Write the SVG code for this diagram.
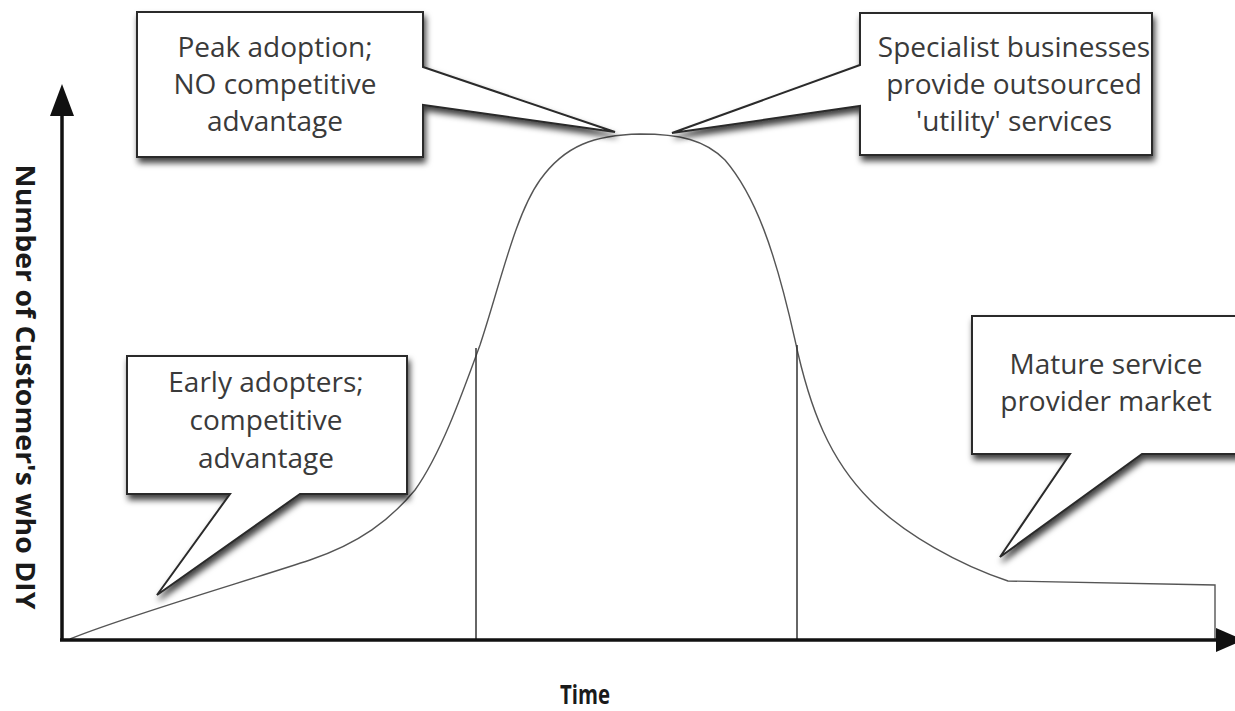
<svg xmlns="http://www.w3.org/2000/svg" width="1235" height="711" viewBox="0 0 1235 711">
  <style>
    .curve { fill: none; stroke: #555; stroke-width: 1.4; }
    .guide { fill: none; stroke: #333; stroke-width: 1.5; }
    .axis { fill: none; stroke: #111; stroke-width: 3.5; }
    .head { fill: #111; }
    .callout { fill: #fff; stroke: #2a2a2a; stroke-width: 2; filter: url(#shadow); }
    .label { font-family: "Open Sans", "Noto Sans", sans-serif; font-size: 28px; fill: #3a3a3a; text-anchor: middle; }
    .axis-title { font-family: "Open Sans", "Noto Sans", sans-serif; font-weight: bold; font-size: 27px; fill: #1a1a1a; text-anchor: middle; }
  </style>
  <defs>
    <filter id="shadow" x="-10%" y="-10%" width="130%" height="140%">
      <feDropShadow dx="2" dy="5" stdDeviation="3" flood-color="#000" flood-opacity="0.75"/>
    </filter>
  </defs>

  <rect width="1235" height="711" fill="#fff"/>

  <!-- adoption curve and phase boundaries -->
  <g id="connectors">
    <path class="curve" d="M70,639 C120,618 250,580 310,560 C360,543 390,520 415,490 C440,455 460,400 480,345 C500,285 515,215 540,180 C565,145 595,135 640,134 C680,134 705,140 725,160 C755,195 775,250 795,340 C810,410 830,460 870,500 C905,535 960,565 1008,581 L1215,585 L1215,640"/>
    <line class="guide" x1="476" y1="348" x2="476" y2="640"/>
    <line class="guide" x1="797" y1="345" x2="797" y2="640"/>
  </g>

  <!-- axes -->
  <g id="axes">
    <line class="axis" x1="62" y1="640" x2="62" y2="110"/>
    <polygon class="head" points="62,84 50,116 74,116"/>
    <line class="axis" x1="60" y1="640" x2="1220" y2="640"/>
    <polygon class="head" points="1244,640 1216,628 1216,652"/>
    <text class="axis-title" x="585" y="704" font-size="25" textLength="50" lengthAdjust="spacingAndGlyphs">Time</text>
    <text class="axis-title" transform="translate(16,387) rotate(90)" textLength="445" lengthAdjust="spacingAndGlyphs">Number of Customer's who DIY</text>
  </g>

  <!-- callouts -->
  <g id="peak-adoption">
    <path class="callout" d="M137,12 H423 V67 L615,132 L423,105 V157 H137 Z"/>
    <text class="label" x="275" y="57">Peak adoption;</text>
    <text class="label" x="275" y="94">NO competitive</text>
    <text class="label" x="275" y="131">advantage</text>
  </g>

  <g id="specialist-businesses">
    <path class="callout" d="M860,13 H1152 V155 H860 V106 L672,133 L860,65 Z"/>
    <text class="label" x="1014" y="57">Specialist businesses</text>
    <text class="label" x="1014" y="94">provide outsourced</text>
    <text class="label" x="1014" y="131">'utility' services</text>
  </g>

  <g id="early-adopters">
    <path class="callout" d="M127,356 H407 V494 H300 L157,595 L230,494 H127 Z"/>
    <text class="label" x="266" y="392">Early adopters;</text>
    <text class="label" x="266" y="430">competitive</text>
    <text class="label" x="266" y="468">advantage</text>
  </g>

  <g id="mature-market">
    <path class="callout" d="M972,316 H1240 V454 H1142 L1000,557 L1070,454 H972 Z"/>
    <text class="label" x="1106" y="374">Mature service</text>
    <text class="label" x="1106" y="411">provider market</text>
  </g>
</svg>
